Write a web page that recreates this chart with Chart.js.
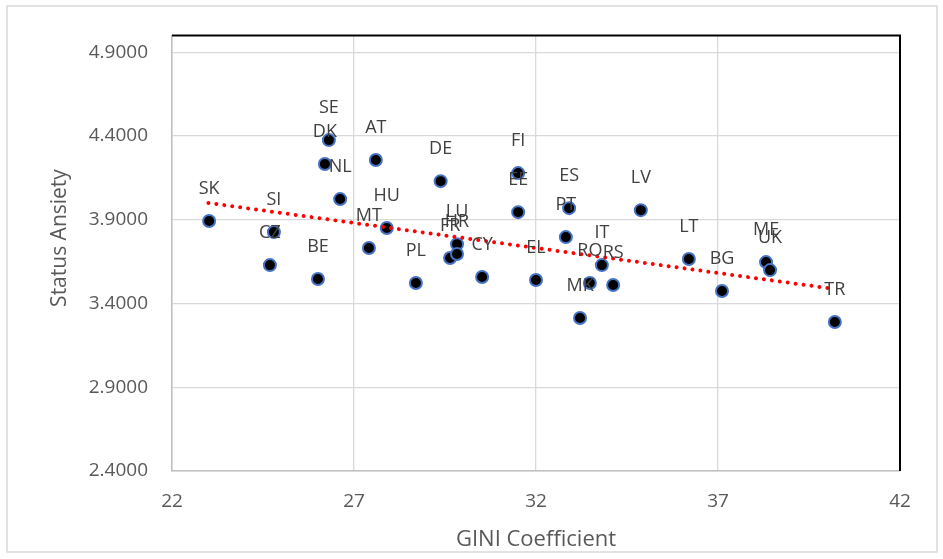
<!DOCTYPE html>
<html lang="en">
<head>
  <meta charset="UTF-8">
  <title>Status Anxiety vs GINI</title>
  <script src="https://cdn.jsdelivr.net/npm/chart.js"></script>
  <style>
    body {
      margin: 0;
      background: #fff;
    }
    .wrap {
      width: 943px;
      height: 559px;
      position: relative;
    }
  </style>
</head>
<body>
  <div class="wrap">
    <canvas id="giniChart"></canvas>
  </div>

  <script>
    var countries = ['SK', 'SI', 'CZ', 'BE', 'SE', 'DK', 'NL', 'AT', 'HU', 'MT', 'PL', 'DE', 'FI', 'EE', 'ES', 'PT',
      'LV', 'LT', 'BG', 'ME', 'UK', 'TR', 'IT', 'RO', 'RS', 'MK', 'EL', 'CY', 'LU', 'FR', 'HR'];
    var gini = [23.02, 24.80, 24.69, 26.01, 26.31, 26.20, 26.62, 27.60, 27.90, 27.41, 28.70, 29.38, 31.51, 31.51, 32.91, 32.82,
      34.88, 36.20, 37.11, 38.32, 38.43, 40.21, 33.81, 33.48, 34.12, 33.21, 32.00, 30.52, 29.83, 29.64, 29.83];
    var anxiety = [3.892, 3.826, 3.629, 3.546, 4.375, 4.232, 4.023, 4.256, 3.850, 3.731, 3.522, 4.130, 4.178, 3.945, 3.969, 3.796,
      3.957, 3.665, 3.474, 3.647, 3.599, 3.289, 3.629, 3.522, 3.510, 3.313, 3.540, 3.558, 3.754, 3.671, 3.695];

    // linear trendline end points
    var trendGini = [23.0, 40.21];
    var trendAnxiety = [4.0, 3.486];

    var yTicks = [2.4, 2.9, 3.4, 3.9, 4.4, 4.9];

    var points = gini.map(function(g, i) { return { x: g, y: anxiety[i] }; });
    var trendPoints = trendGini.map(function(g, i) { return { x: g, y: trendAnxiety[i] }; });

    // frame round the whole chart, plot area edges, y title
    var framePlugin = {
      id: 'frame',
      beforeDraw: function(chart) {
        var c = chart.ctx;
        c.save();
        c.strokeStyle = '#d9d9d9';
        c.lineWidth = 1.5;
        c.strokeRect(7, 6, 930, 546);
        c.restore();
      },
      beforeDatasetsDraw: function(chart) {
        var a = chart.chartArea;
        var c = chart.ctx;
        c.save();
        c.strokeStyle = '#000';
        c.lineWidth = 2;
        c.beginPath();
        c.moveTo(a.left, a.top);
        c.lineTo(a.right, a.top);
        c.lineTo(a.right, a.bottom);
        c.stroke();

        // y axis title, Excel puts it a bit above the plot middle
        c.translate(60, 238);
        c.rotate(-Math.PI / 2);
        c.font = '21px "Open Sans"';
        c.fillStyle = '#595959';
        c.textAlign = 'center';
        c.textBaseline = 'middle';
        c.fillText('Status Ansiety', 0, 0);
        c.restore();
      }
    };

    // country labels above each marker
    var labelPlugin = {
      id: 'pointLabels',
      afterDatasetsDraw: function(chart) {
        var meta = chart.getDatasetMeta(1);
        var c = chart.ctx;
        c.save();
        c.font = '18px "Open Sans"';
        c.fillStyle = '#404040';
        c.textAlign = 'center';
        c.textBaseline = 'middle';
        meta.data.forEach(function(el, i) {
          c.fillText(countries[i], el.x, el.y - 32);
        });
        c.restore();
      }
    };

    var ctx = document.getElementById('giniChart').getContext('2d');
    var chart = new Chart(ctx, {
      type: 'scatter',
      data: {
        datasets: [
          {
            label: 'Trend',
            data: trendPoints,
            showLine: true,
            pointRadius: 0,
            borderColor: '#ff0000',
            borderWidth: 4,
            borderCapStyle: 'round',
            borderDash: [0.01, 8],
            order: 0
          },
          {
            label: 'Countries',
            data: points,
            pointRadius: 6,
            pointBackgroundColor: '#000',
            pointBorderColor: '#4472c4',
            pointBorderWidth: 2,
            order: 1
          }
        ]
      },
      options: {
        responsive: true,
        maintainAspectRatio: false,
        animation: false,
        events: [],
        layout: {
          padding: { left: 0, right: 43, top: 35, bottom: 0 }
        },
        plugins: {
          legend: { display: false },
          tooltip: { enabled: false }
        },
        scales: {
          x: {
            type: 'linear',
            min: 22,
            max: 42,
            ticks: {
              stepSize: 5,
              padding: 19,
              color: '#595959',
              font: { family: 'Open Sans', size: 19 }
            },
            grid: { color: '#d9d9d9', lineWidth: 1.3, drawTicks: false },
            border: { color: '#bfbfbf', width: 1.5 },
            title: {
              display: true,
              text: 'GINI Coefficient',
              color: '#595959',
              font: { family: 'Open Sans', size: 22 },
              padding: { top: 0, bottom: 6 }
            },
            afterFit: function(scale) { scale.height = 88; }
          },
          y: {
            type: 'linear',
            min: 2.4,
            max: 5.0,
            afterBuildTicks: function(scale) {
              scale.ticks = yTicks.map(function(v) { return { value: v }; });
            },
            ticks: {
              padding: 24,
              color: '#595959',
              font: { family: 'Open Sans', size: 19 },
              callback: function(v) { return v.toFixed(4); }
            },
            grid: { color: '#d9d9d9', lineWidth: 1.3, drawTicks: false },
            border: { color: '#bfbfbf', width: 1.5 },
            afterFit: function(scale) { scale.width = 172; }
          }
        }
      },
      plugins: [framePlugin, labelPlugin]
    });
  </script>
</body>
</html>
